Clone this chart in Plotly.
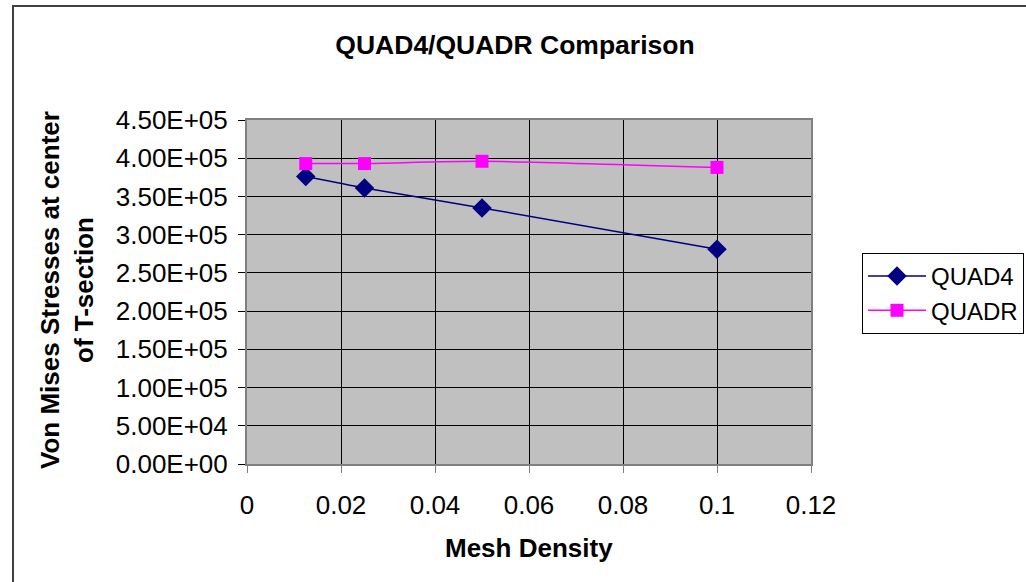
import plotly.graph_objects as go

mesh_density = [0.0125, 0.025, 0.05, 0.1]
quad4 = [3.76e5, 3.61e5, 3.35e5, 2.81e5]
quadr = [3.93e5, 3.93e5, 3.96e5, 3.88e5]

x_ticks = [0, 0.02, 0.04, 0.06, 0.08, 0.1, 0.12]
x_ticktext = ["0", "0.02", "0.04", "0.06", "0.08", "0.1", "0.12"]
y_ticks = [i * 5e4 for i in range(10)]
y_ticktext = [f"{v:.2E}" for v in y_ticks]

FONT = "Liberation Sans, Arial, sans-serif"

fig = go.Figure()
fig.add_trace(go.Scatter(
    x=mesh_density, y=quad4, name="QUAD4", mode="lines+markers",
    line=dict(color="#000080", width=1.5, shape="spline", smoothing=0.6),
    marker=dict(symbol="diamond", size=15, color="#000080"),
))
fig.add_trace(go.Scatter(
    x=mesh_density, y=quadr, name="QUADR", mode="lines+markers",
    line=dict(color="#FF00FF", width=1.5, shape="spline", smoothing=0.6),
    marker=dict(symbol="square", size=13, color="#FF00FF"),
))

L, R, T, B = 247, 811, 120, 464
W, H = 1026, 582

def px_x(p):
    return (p - L) / (R - L)

def px_y(p):
    return (B - p) / (B - T)

fig.update_layout(
    width=W, height=H,
    margin=dict(l=L, r=W - R, t=T, b=H - B, pad=0, autoexpand=False),
    paper_bgcolor="white",
    plot_bgcolor="#C0C0C0",
    font=dict(family=FONT, size=25, color="black"),
    showlegend=True,
    legend=dict(
        xref="container", yref="container",
        x=862 / W, y=1 - 253 / H, xanchor="left", yanchor="top",
        bgcolor="white", bordercolor="black", borderwidth=1,
        font=dict(family=FONT, size=24, color="black"),
        tracegroupgap=0, itemwidth=58,
    ),
    title=dict(
        text="<b>QUAD4/QUADR Comparison</b>",
        x=515 / W, xanchor="center", xref="container",
        y=1 - 45 / H, yanchor="middle", yref="container",
        font=dict(family=FONT, size=26.5, color="black"),
    ),
)

fig.update_xaxes(
    range=[0, 0.12], tickvals=x_ticks, ticktext=x_ticktext,
    showgrid=True, gridcolor="black", gridwidth=1,
    ticks="outside", ticklen=7, tickcolor="#808080", tickwidth=1,
    showline=True, linecolor="#808080", linewidth=2, mirror=True,
    zeroline=False, ticklabelstandoff=10, automargin=False,
    tickfont=dict(family=FONT, size=26, color="black"),
)
fig.update_yaxes(
    range=[0, 4.5e5], tickvals=y_ticks, ticktext=y_ticktext,
    showgrid=True, gridcolor="black", gridwidth=1,
    ticks="outside", ticklen=7, tickcolor="black", tickwidth=1,
    showline=True, linecolor="#808080", linewidth=2, mirror=True,
    zeroline=False, ticklabelstandoff=5, automargin=False,
    tickfont=dict(family=FONT, size=26, color="black"),
)

fig.add_annotation(
    text="<b>Von Mises Stresses at center<br>of T-section</b>",
    xref="paper", yref="paper", x=px_x(67), y=px_y(290),
    xanchor="center", yanchor="middle", textangle=-90, showarrow=False,
    font=dict(family=FONT, size=26, color="black"),
)
fig.add_annotation(
    text="<b>Mesh Density</b>",
    xref="paper", yref="paper", x=0.5, y=px_y(548),
    xanchor="center", yanchor="middle", showarrow=False,
    font=dict(family=FONT, size=26, color="black"),
)

fig.add_shape(
    type="rect", xref="paper", yref="paper",
    x0=px_x(13), x1=px_x(1040), y0=px_y(600), y1=px_y(6),
    line=dict(color="#404040", width=2), fillcolor="rgba(0,0,0,0)", layer="below",
)

fig.write_html("out.html")
